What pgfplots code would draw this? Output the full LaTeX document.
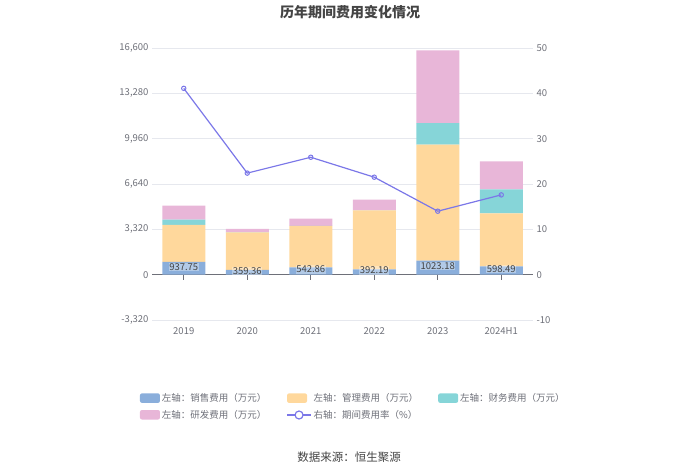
\documentclass[border=0pt]{standalone}
\usepackage{pgfplots}
\pgfplotsset{compat=1.18}
\usepackage{fontspec}
\setmainfont{Noto Sans CJK SC}
\definecolor{cblue}{HTML}{8AAEDB}
\definecolor{corange}{HTML}{FFD89C}
\definecolor{cteal}{HTML}{86D5D8}
\definecolor{cpink}{HTML}{E8B6D8}
\definecolor{cline}{HTML}{7B77E8}
\definecolor{ctick}{HTML}{6E7079}
\definecolor{cgrid}{HTML}{E6E8EE}
\definecolor{ctitle}{HTML}{444444}
\begin{document}
\begin{tikzpicture}
\useasboundingbox (0,0) rectangle (700pt,474pt);
\pgfplotsset{
  base/.style={
    at={(152pt,154pt)}, anchor=south west, scale only axis,
    width=381pt, height=272pt,
    xmin=-0.5, xmax=5.5,
    scaled ticks=false,
    /pgf/number format/assume math mode=true,
    /pgf/number format/1000 sep={,},
    tick label style={font=\fontsize{9.5}{11}\selectfont, text=ctick},
  }
}
% left axis: stacked bars
\begin{axis}[base,
  ymin=-3320, ymax=16600,
  ytick={-3320,0,3320,6640,9960,13280,16600},
  ybar stacked, bar width=43pt,
  axis y line*=left, y axis line style={draw=none},
  axis x line*=middle, x axis line style={ctick, line width=0.8pt},
  xtick={0,...,5}, xticklabels={2019,2020,2021,2022,2023,2024H1},
  xticklabel style={yshift=-44pt},
  major x tick style={ctick, line width=0.8pt}, major tick length=5pt,
  x tick style={ctick}, xtick align=outside,
  major y tick style={draw=none},
  ymajorgrids, grid style={cgrid, line width=0.6pt},
  legend columns=3,
  legend cell align=left,
  legend style={at={(-0.04,-0.255)}, anchor=north west, draw=none, fill=none,
    font=\fontsize{9.5}{11}\selectfont, text=ctick,
    /tikz/every even column/.append style={column sep=18pt},
    row sep=3pt},
  area legend,
  legend image code/.code={\fill[#1, rounded corners=2pt] (0pt,-4.5pt) rectangle (20pt,5pt);},
]
\addplot[fill=cblue, draw=none] coordinates {(0,937.75) (1,359.36) (2,542.86) (3,392.19) (4,1023.18) (5,598.49)};
\addlegendentry{左轴：销售费用（万元）}
\addplot[fill=corange, draw=none] coordinates {(0,2700) (1,2738) (2,3022) (3,4315) (4,8493) (5,3889)};
\addlegendentry{左轴：管理费用（万元）}
\addplot[fill=cteal, draw=none] coordinates {(0,388) (1,10) (2,10) (3,10) (4,1588) (5,1757)};
\addlegendentry{左轴：财务费用（万元）}
\addplot[fill=cpink, draw=none] coordinates {(0,1025) (1,238) (2,524) (3,773) (4,5315) (5,2050)};
\addlegendentry{左轴：研发费用（万元）}
\addlegendimage{legend image code/.code={\draw[cline, line width=1.2pt] (0pt,0pt) -- (24pt,0pt); \draw[cline, line width=1.2pt, fill=white] (12pt,0pt) circle (4pt);}}
\addlegendentry{右轴：期间费用率（\%）}
\end{axis}
% labels on the blue segments
\begin{axis}[base, ymin=-3320, ymax=16600, hide axis]
\addplot[draw=none, mark=none, point meta=explicit symbolic,
  nodes near coords, nodes near coords align={center},
  every node near coord/.style={font=\fontsize{9.5}{11}\selectfont, text=ctitle,
    fill=white, fill opacity=0.35, text opacity=1, inner sep=0.6pt, yshift=1.5pt}]
  coordinates {(0,468.9)[937.75] (1,179.7)[359.36] (2,271.4)[542.86] (3,196.1)[392.19] (4,511.6)[1023.18] (5,299.2)[598.49]};
\end{axis}
% right axis: line
\begin{axis}[base,
  ymin=-10, ymax=50, ytick={-10,0,...,50},
  axis y line*=right, y axis line style={draw=none},
  axis x line=none, major y tick style={draw=none},
]
\addplot[cline, line width=1.2pt, mark=o, mark size=2.2pt, mark options={fill=white, line width=1pt}]
  coordinates {(0,41.1) (1,22.4) (2,25.9) (3,21.5) (4,14.0) (5,17.6)};
\end{axis}
\node[font=\fontsize{14}{16}\selectfont\bfseries, text=ctitle] at (350pt,462pt) {历年期间费用变化情况};
\node[font=\fontsize{11.5}{13}\selectfont, text=ctitle] at (349pt,17pt) {数据来源：恒生聚源};
\end{tikzpicture}
\end{document}
